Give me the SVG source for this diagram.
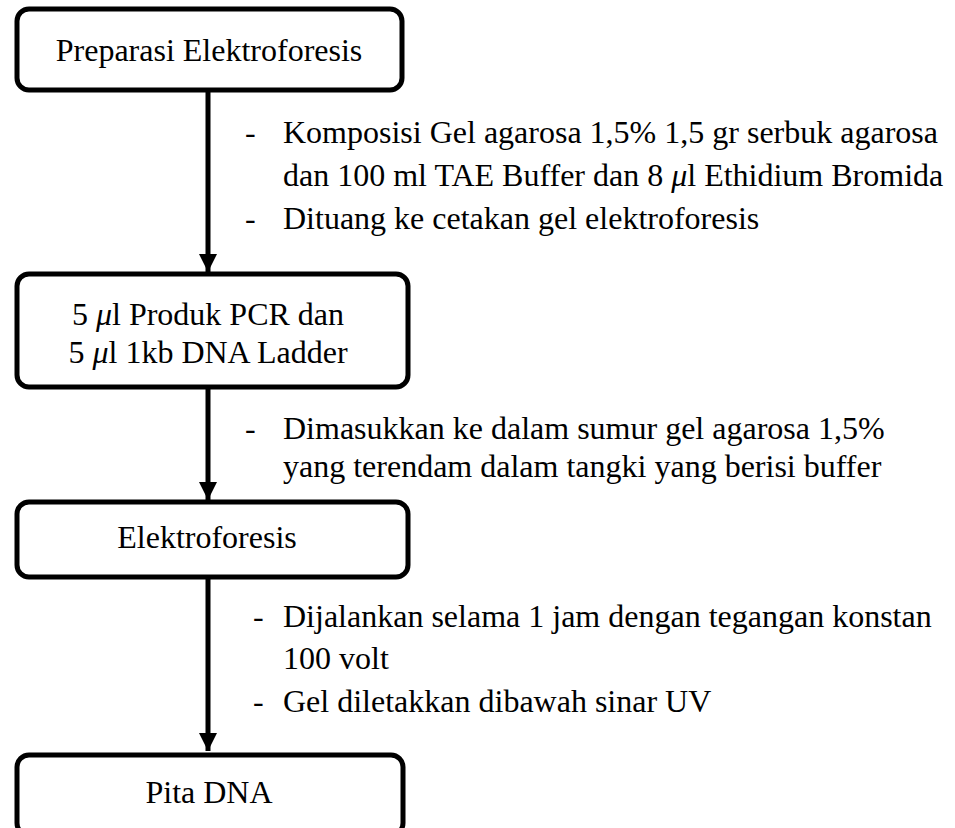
<svg xmlns="http://www.w3.org/2000/svg" width="955" height="828" viewBox="0 0 955 828">
<style>
.box{fill:#fff;stroke:#000;stroke-width:5}
.t{font-family:"Liberation Serif","Times New Roman",serif;font-size:32px;fill:#000}
.c{text-anchor:middle}
.ln{stroke:#000;stroke-width:5;fill:none}
</style>
<defs>
<marker id="ah" markerUnits="userSpaceOnUse" markerWidth="18" markerHeight="18" refX="18" refY="9" orient="auto" viewBox="0 0 18 18">
<path d="M0,0 L18,9 L0,18 Z" fill="#000"/>
</marker>
</defs>
<rect width="955" height="828" fill="#fff"/>
<g id="connectors">
<line class="ln" x1="208" y1="92" x2="208" y2="272" marker-end="url(#ah)"/>
<line class="ln" x1="208" y1="389" x2="208" y2="500" marker-end="url(#ah)"/>
<line class="ln" x1="208" y1="579" x2="208" y2="751" marker-end="url(#ah)"/>
</g>
<g id="node1">
<rect class="box" x="17" y="9" width="385" height="81" rx="12"/>
<text class="t c" x="209" y="61">Preparasi Elektroforesis</text>
</g>
<g id="node2">
<rect class="box" x="17" y="274" width="391" height="113" rx="12"/>
<text class="t c" x="208" y="325">5 <tspan font-style="italic">μ</tspan>l Produk PCR dan</text>
<text class="t c" x="208" y="363">5 <tspan font-style="italic">μ</tspan>l 1kb DNA Ladder</text>
</g>
<g id="node3">
<rect class="box" x="17" y="502" width="391" height="75" rx="12"/>
<text class="t c" x="207" y="548">Elektroforesis</text>
</g>
<g id="node4">
<rect class="box" x="17" y="755" width="386" height="80" rx="12"/>
<text class="t c" x="209" y="803">Pita DNA</text>
</g>
<g id="label1">
<text class="t" x="245" y="143">-</text>
<text class="t" x="283" y="143">Komposisi Gel agarosa 1,5% 1,5 gr serbuk agarosa</text>
<text class="t" x="283" y="186">dan 100 ml TAE Buffer dan 8 <tspan font-style="italic">μ</tspan>l Ethidium Bromida</text>
<text class="t" x="245" y="229">-</text>
<text class="t" x="283" y="229">Dituang ke cetakan gel elektroforesis</text>
</g>
<g id="label2">
<text class="t" x="245" y="439">-</text>
<text class="t" x="283" y="439">Dimasukkan ke dalam sumur gel agarosa 1,5%</text>
<text class="t" x="283" y="477">yang terendam dalam tangki yang berisi buffer</text>
</g>
<g id="label3">
<text class="t" x="253" y="627">-</text>
<text class="t" x="283" y="627">Dijalankan selama 1 jam dengan tegangan konstan</text>
<text class="t" x="283" y="669">100 volt</text>
<text class="t" x="253" y="712">-</text>
<text class="t" x="283" y="712">Gel diletakkan dibawah sinar UV</text>
</g>
</svg>
